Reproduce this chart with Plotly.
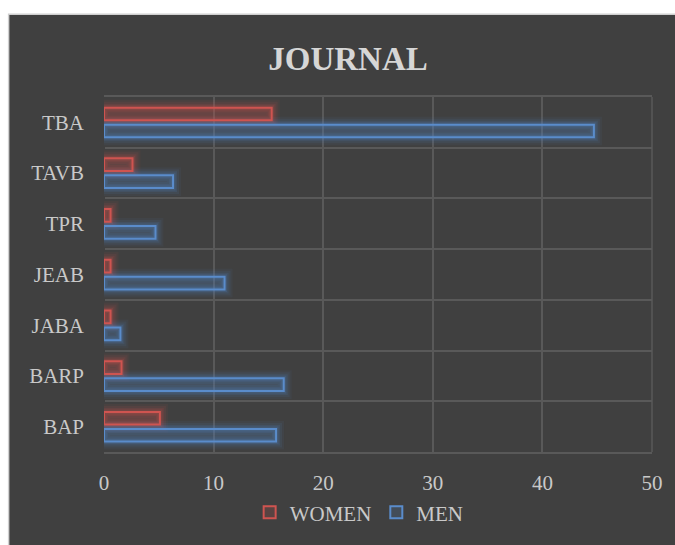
import plotly.graph_objects as go

categories = ["BAP", "BARP", "JABA", "JEAB", "TPR", "TAVB", "TBA"]
women = [5.1, 1.6, 0.6, 0.6, 0.6, 2.6, 15.3]
men = [15.7, 16.4, 1.5, 11.0, 4.7, 6.3, 44.7]
x_ticks = [0, 10, 20, 30, 40, 50]

BG = "#404040"
GRID = "#595959"
TXT = "#c9c9c9"
TITLE = "#d6d6d6"
FONT = "Liberation Serif"

series = [
    ("WOMEN", women, (192, 80, 77), "#cf5450", 0.04),
    ("MEN", men, (79, 129, 189), "#5a8ccb", -0.295),
]
W = 0.25

fig = go.Figure()
# glow layers
for name, vals, rgb, line, off in series:
    for lw, a in [(16, 0.07), (12, 0.1), (8, 0.14), (5, 0.2)]:
        fig.add_trace(go.Bar(
            y=categories, x=vals, orientation="h", offset=off, width=W,
            marker=dict(color="rgba(0,0,0,0)",
                        line=dict(color=f"rgba({rgb[0]},{rgb[1]},{rgb[2]},{a})", width=lw)),
            showlegend=False, hoverinfo="skip"))
for name, vals, rgb, line, off in series:
    fig.add_trace(go.Bar(
        y=categories, x=vals, orientation="h", name=name, offset=off, width=W,
        marker=dict(color=f"rgba({rgb[0]},{rgb[1]},{rgb[2]},0.2)",
                    line=dict(color=line, width=2))))

# dark panel
fig.add_shape(type="rect", xref="paper", yref="paper",
              x0=-0.174, x1=1.2, y0=-0.4, y1=1.233,
              fillcolor=BG, line=dict(color="#d0d0d0", width=1.5), layer="below")
# right border of plot area
fig.add_shape(type="line", xref="paper", yref="paper", x0=1, x1=1, y0=0, y1=1,
              line=dict(color=GRID, width=1.5), layer="below")

fig.update_layout(
    width=675, height=545,
    margin=dict(l=104, r=19, t=97, b=92),
    paper_bgcolor="white", plot_bgcolor="rgba(0,0,0,0)",
    barmode="overlay",
    font=dict(family=FONT, size=21, color=TXT),
    title=dict(text="<b>JOURNAL</b>", x=0.5156, xref="container", xanchor="center",
               y=1 - 58 / 545, yref="container", yanchor="middle",
               font=dict(family=FONT, size=33, color=TITLE)),
    legend=dict(orientation="h", x=0.4656, xanchor="center", y=-0.171, yanchor="middle",
                font=dict(family=FONT, size=21, color=TXT), bgcolor="rgba(0,0,0,0)",
                traceorder="normal", itemwidth=30),
    showlegend=True,
)
fig.update_xaxes(range=[0, 50], tickvals=x_ticks, showgrid=True, gridcolor=GRID, gridwidth=1.5,
                 zeroline=True, zerolinecolor=BG, zerolinewidth=2,
                 showline=True, linecolor=GRID, linewidth=1.5, mirror=True,
                 ticks="", ticklabelstandoff=11, tickfont=dict(family=FONT, size=21, color=TXT))
fig.update_yaxes(categoryorder="array", categoryarray=categories, range=[-0.5, 6.5],
                 tickson="boundaries", showgrid=True, gridcolor=GRID, gridwidth=1.5,
                 showline=False, zeroline=False,
                 ticks="", ticklabelstandoff=19, tickfont=dict(family=FONT, size=21, color=TXT))

fig.write_html("out.html")
